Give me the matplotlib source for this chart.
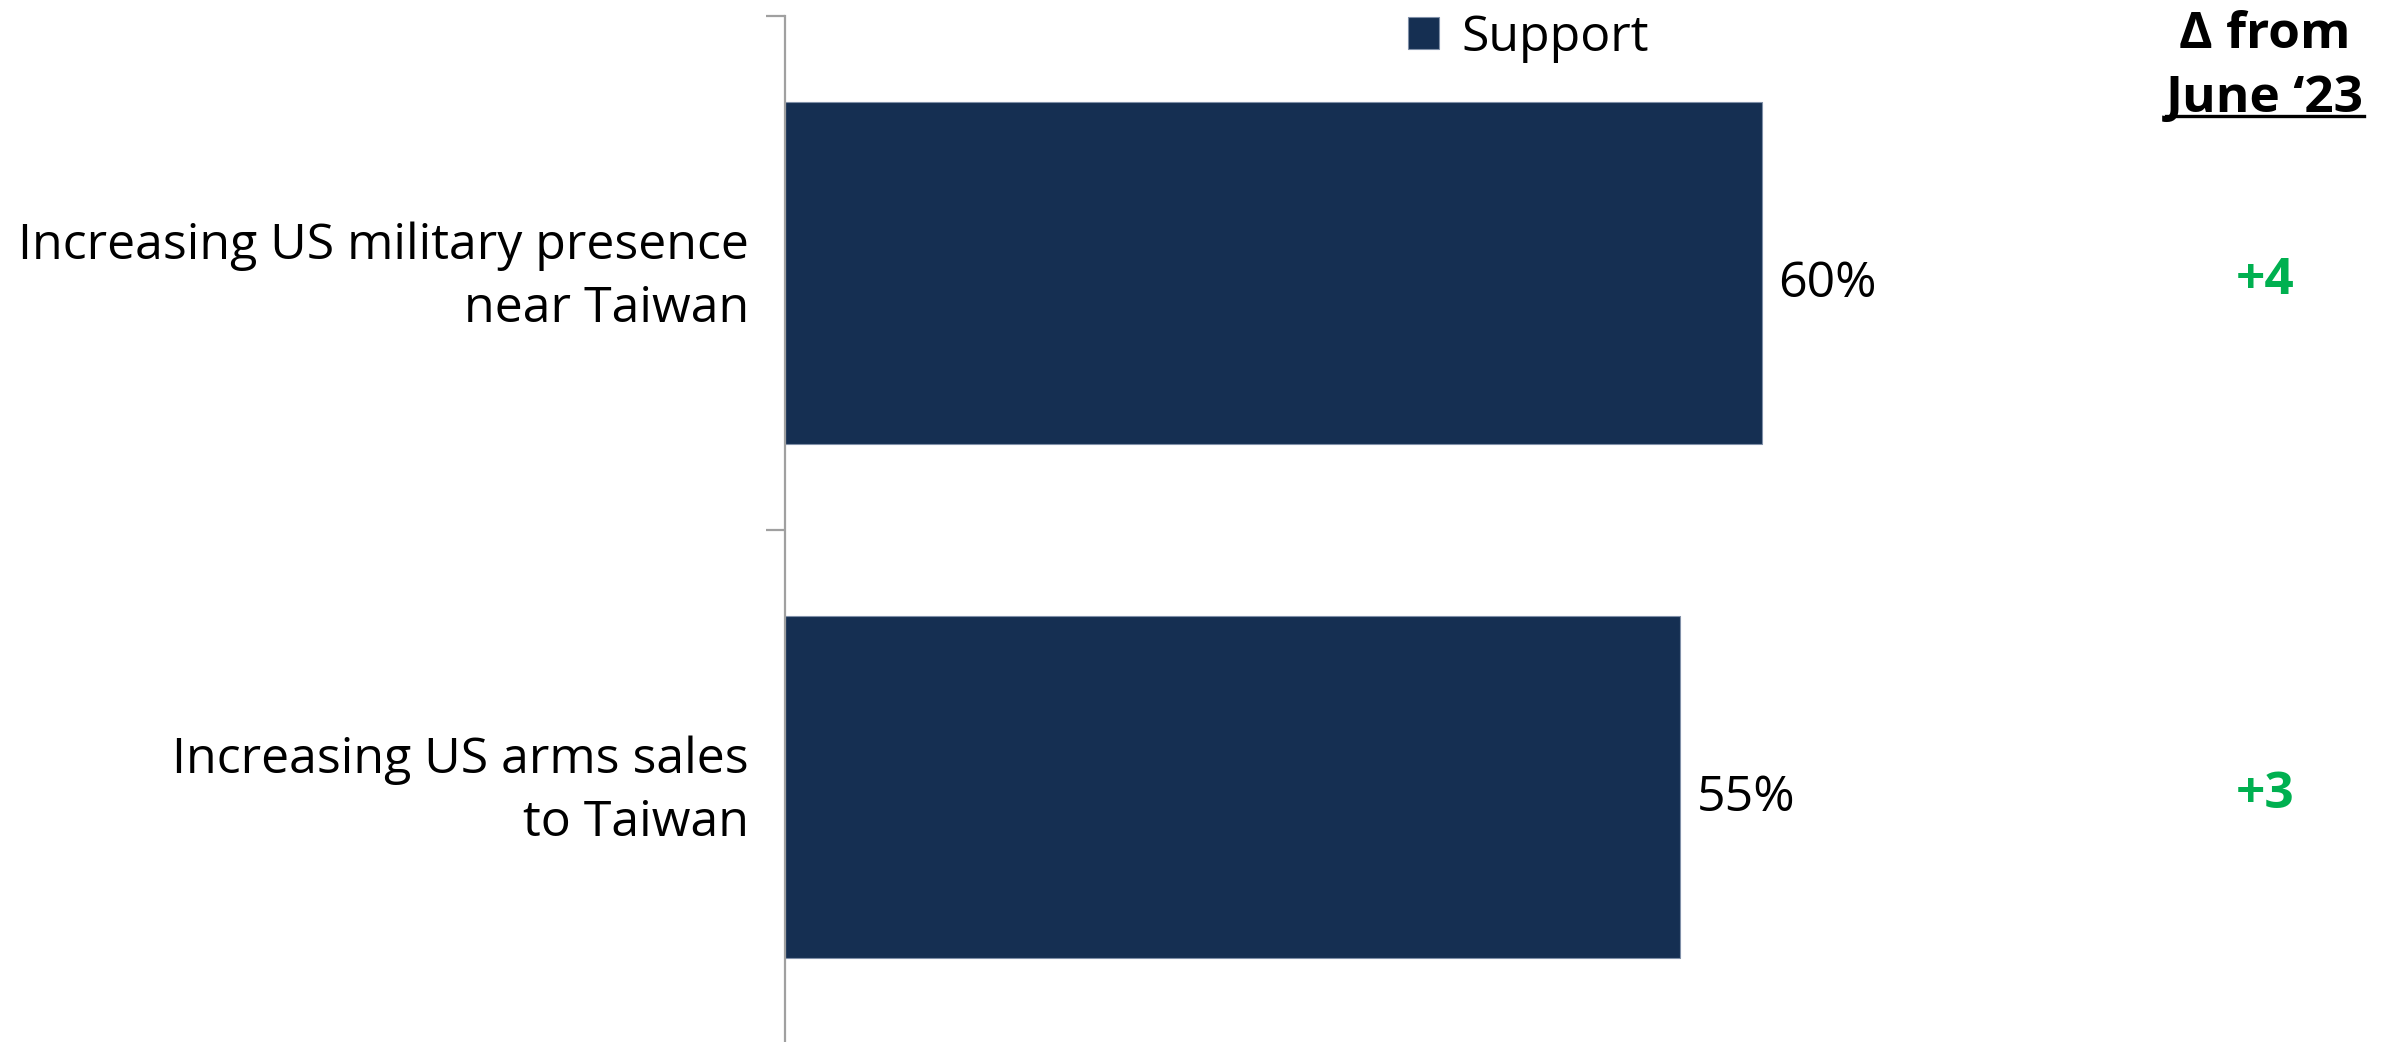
import matplotlib
matplotlib.use("Agg")
import matplotlib.pyplot as plt
from matplotlib.transforms import blended_transform_factory, offset_copy
from matplotlib.lines import Line2D

categories = ["Increasing US military presence\nnear Taiwan", "Increasing US arms sales\nto Taiwan"]
support = [60, 55]
deltas = ["+4", "+3"]
series_name = "Support"
header_top = "\u0394 from"
header_bottom = "June \u201823"

plt.rcParams['font.family'] = ['Open Sans', 'DejaVu Sans']

W, H = 2394, 1042
FS = 36
FSB = 37
fig = plt.figure(figsize=(W / 100, H / 100), dpi=100)
ax = fig.add_axes([785 / W, -2 / H, 1 - 785 / W, (H - 16 + 2) / H])

bar_color = "#152F52"
ypos = list(range(len(categories)))
bars = ax.barh(ypos, support, height=0.664, color=bar_color, edgecolor="#8090A8",
               linewidth=0.8, label=series_name)
ax.set_xlim(0, (W - 785) / 16.28)
ax.set_ylim(1.5, -0.5)

for sp in ["top", "right", "bottom"]:
    ax.spines[sp].set_visible(False)
ax.spines["left"].set_color("#A0A0A0")
ax.spines["left"].set_linewidth(1.6)
ax.set_xticks([])
ax.set_yticks([-0.5, 0.5, 1.5])
ax.set_yticklabels([])
ax.tick_params(axis="y", which="major", length=13.5, width=1.6, color="#A0A0A0", direction="out")

for y, lab in zip(ypos, categories):
    ax.annotate(lab, xy=(0, y), xycoords=("axes fraction", "data"), xytext=(-26, -3.5),
                textcoords="offset points", ha="right", va="center", fontsize=FS,
                color="black", linespacing=1.38, multialignment="right")

for y, v in zip(ypos, support):
    ax.annotate(f"{v}%", xy=(v, y), xytext=(12, -8), textcoords="offset points",
                ha="left", va="center", fontsize=FS, color="black")

tr = offset_copy(blended_transform_factory(fig.transFigure, ax.transData), fig=fig,
                 x=0, y=-6, units="points")
xc = 2265 / W
for y, d in zip(ypos, deltas):
    fig.text(xc, y, d, transform=tr, ha="center", va="center", fontsize=FSB,
             fontweight="bold", color="#00B050")

fig.text(xc, 1 - 35 / H, header_top, ha="center", va="center", fontsize=FSB, fontweight="bold")
t2 = fig.text(xc, 1 - 99 / H, header_bottom, ha="center", va="center", fontsize=FSB, fontweight="bold")

leg = ax.legend(loc="center left", bbox_to_anchor=(1408 / W, 1 - 38 / H),
                bbox_transform=fig.transFigure, frameon=False, fontsize=FS,
                handlelength=0.62, handleheight=0.62, handletextpad=0.45, borderpad=0,
                borderaxespad=0)

fig.canvas.draw()
bb = t2.get_window_extent(renderer=fig.canvas.get_renderer())
yline = 1 - 116 / H
fig.add_artist(Line2D([bb.x0 / W, bb.x1 / W], [yline, yline], transform=fig.transFigure,
                      color="black", linewidth=2.4))

fig.savefig("out.png", dpi=100)
